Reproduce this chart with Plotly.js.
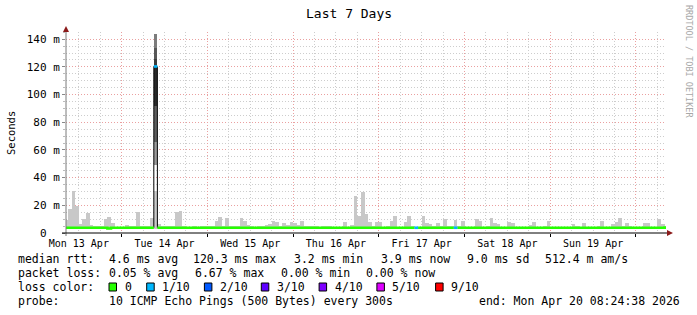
<!DOCTYPE html>
<html><head><meta charset="utf-8">
<script src="https://cdn.plot.ly/plotly-3.0.1.min.js"></script>
<style>html,body{margin:0;padding:0;background:#fff}</style>
</head><body><div id="chart" style="width:697px;height:315px"></div>
<script>
// ---------------- DATA ----------------
const axisStart = '2026-04-13 08:24:38';
const axisEnd   = '2026-04-20 08:24:38';
const firstHourUTC = Date.UTC(2026, 3, 13, 8, 0, 0);   // hourly consolidated rows start 08:00 Apr 13
const smokeMinMs = 3.2;
// max ping (ms) of each hourly row, 08:00 Apr 13 .. 08:00 Apr 20
const smokeMaxMs = [
 9.4,17,30.5,19.5,6.5,10,14.6,5.8,5,5,
 5,10,11.7,7.4,4.3,4.3,4.3,5.8,5,5,
 15.4,5,5,5,11,30,6.5,5,5,5,
 5,15.4,16,5,4.3,4.3,5,4.3,5,5,
 5,5,8.9,11.7,5,11,5,5,5,11,
 8.9,5.8,5,4.3,5,5,5.5,6.5,8.9,8,
 5,7,5.8,8,7,5.8,8.9,5,5,5,
 5,4.3,5,5,5,4.3,4.3,4.3,8,4.3,
 6,26.7,12.3,29.8,13.7,8,5,8,8,4.3,
 5,8.9,12.5,4.3,4.3,8,12.3,5,4.3,4.3,
 12.3,7,6.5,5,7.5,5,10,5,5,9.5,
 5,9,4.3,4.3,4.3,10,9,4.3,5,11,
 7,6.5,4.3,4.3,8,7.5,4.3,4.3,4.3,4.3,
 5.8,8,4.3,4.3,5,9,4.3,4.3,4.3,4.3,
 4.3,4.3,6.5,5,4.3,7.5,4.3,4.3,4.3,5,
 9,4.3,4.3,6.5,8,11,5,7.5,5,4.3,
 4.3,4.3,7.5,7.5,4.3,4.3,10,6.5,5
];
// median rtt (ms) of each hourly row
const medianMs = [
 3.8,3.8,3.8,3.8,3.8,3.8,3.8,3.8,3.8,3.8,
 3.8,3.8,3.2,3.8,3.8,3.8,3.8,3.8,3.8,3.8,
 3.8,3.8,3.8,3.8,3.8,120.3,3.8,3.8,3.8,3.8,
 3.8,3.8,3.8,3.8,3.8,3.8,3.8,3.8,3.8,3.8,
 3.8,3.8,3.8,3.8,3.8,3.8,3.8,3.8,3.8,3.8,
 3.8,3.8,3.8,3.8,3.8,3.8,3.8,3.8,3.8,3.8,
 3.8,3.8,3.8,3.8,3.8,3.8,3.8,3.8,3.8,3.8,
 3.8,3.8,3.8,3.8,3.8,3.8,3.8,3.8,3.8,3.8,
 3.8,3.8,3.8,3.8,3.8,3.8,3.8,3.8,3.8,3.8,
 3.8,3.8,3.8,3.8,3.8,3.8,3.8,3.8,3.8,3.8,
 3.8,3.8,3.8,3.8,3.8,3.8,3.8,3.8,3.8,3.8,
 3.8,3.8,3.8,3.8,3.8,3.8,3.8,3.8,3.8,3.8,
 3.8,3.8,3.8,3.8,3.8,3.8,3.8,3.8,3.8,3.8,
 3.8,3.8,3.8,3.8,3.8,3.8,3.8,3.8,3.8,3.8,
 3.8,3.8,3.8,3.8,3.8,3.8,3.8,3.8,3.8,3.8,
 3.8,3.8,3.3,3.3,3.3,3.8,3.8,3.8,3.8,3.8,
 3.8,3.8,3.8,3.8,3.8,3.8,3.8,3.8,3.9
];
// packet loss (tenths) of each hourly row
const lossTenths = [
 0,0,0,0,0,0,0,0,0,0, 0,0,0,0,0,0,0,0,0,0,
 0,0,0,0,0,1,0,0,0,0, 0,0,0,0,0,0,0,0,0,0,
 0,0,0,0,0,0,0,0,0,0, 0,0,0,0,0,0,0,0,0,0,
 0,0,0,0,0,0,0,0,0,0, 0,0,0,0,0,0,0,0,0,0,
 0,0,0,0,0,0,0,0,0,0, 0,0,0,0,0,0,0,0,1,0,
 0,0,0,0,0,0,0,0,0,1, 0,0,0,0,0,0,0,0,0,0,
 0,0,0,0,0,0,0,0,0,0, 0,0,0,0,0,0,0,0,0,0,
 0,0,0,0,0,0,0,0,0,0, 0,0,0,0,0,0,0,0,0,0,
 0,0,0,0,0,0,0,0,0
];
// dense smoke of the outage row (row index 25 = 09:00 Apr 14)
const spikeRow = 25;
const spikeLowMs  = [49, 66, 92, 120, 126, 134];
const spikeHighMs = [66, 92, 120, 126, 134, 144];
const spikeShade  = ['#9a9a9a','#5e5e5e','#2a2a2a','#3c3c3c','#575757','#7c7c7c'];

const lossLabels = ['0','1/10','2/10','3/10','4/10','5/10','9/10'];
const lossClass  = [0,1,2,3,4,5,9];
const lossColors = {0:'#26ff00',1:'#00b8ff',2:'#0059ff',3:'#5e00ff',4:'#7e00ff',5:'#dd00ff',9:'#ff0000'};

const yTickVals = [0,20,40,60,80,100,120,140];
const yTickText = ['0\u00a0\u00a0','20 m','40 m','60 m','80 m','100 m','120 m','140 m'];

const titleText = 'Last 7 Days';
const yTitle = 'Seconds';
const watermark = 'RRDTOOL / TOBI OETIKER';
const rttLabel = 'median rtt:';
const rttItems = ['4.6 ms avg','120.3 ms max','3.2 ms min','3.9 ms now','9.0 ms sd','512.4 m am/s'];
const lossLabel = 'packet loss:';
const lossItems = ['0.05 % avg','6.67 % max','0.00 % min','0.00 % now'];
const colorLabel = 'loss color:';
const probeLabel = 'probe:';
const probeText = '10 ICMP Echo Pings (500 Bytes) every 300s';
const endText = 'end: Mon Apr 20 08:24:38 2026';

// ---------------- BUILD ----------------
const HOUR = 3600000;
const hourStart = i => firstHourUTC + i*HOUR;
const MONO = 'DejaVu Sans Mono';

const traces = [];
// light smoke
traces.push({
  type:'bar', x: smokeMaxMs.map((v,i)=>hourStart(i)+HOUR/2), y: smokeMaxMs.map(v=>v-smokeMinMs),
  base: smokeMinMs, width: HOUR, marker:{color:'#c8c8c8', line:{width:0}},
  hoverinfo:'skip', showlegend:false
});
// dense smoke of outage
traces.push({
  type:'bar', x: spikeLowMs.map(()=>hourStart(spikeRow)+HOUR/2),
  y: spikeHighMs.map((h,k)=>h-spikeLowMs[k]), base: spikeLowMs, width: HOUR,
  marker:{color: spikeShade, line:{width:0}}, hoverinfo:'skip', showlegend:false
});
// black step connectors of median
{
  const xs=[], ys=[];
  for (let i=1;i<medianMs.length;i++){
    if (Math.abs(medianMs[i]-medianMs[i-1])>5){
      xs.push(hourStart(i),hourStart(i),null); ys.push(medianMs[i-1],medianMs[i],null);
    }
  }
  traces.push({type:'scatter',mode:'lines',x:xs,y:ys,line:{color:'#000',width:1},hoverinfo:'skip',showlegend:false});
}
// median line by loss colour
lossClass.forEach(c=>{
  const xs=[], ys=[];
  for (let i=0;i<medianMs.length;i++){
    if (lossTenths[i]!==c){ if (xs.length && xs[xs.length-1]!==null){xs.push(null);ys.push(null);} continue; }
    xs.push(hourStart(i),hourStart(i+1)); ys.push(medianMs[i],medianMs[i]);
  }
  if (xs.length) traces.push({type:'scatter',mode:'lines',x:xs,y:ys,line:{color:lossColors[c],width:2.6,shape:'linear'},hoverinfo:'skip',showlegend:false});
});
// grid helper axes
const gridMinor=[], gridMajor=[];
for (let d=13; d<=20; d++){
  gridMajor.push(Date.UTC(2026,3,d,0));
  [6,12,18].forEach(h=>gridMinor.push(Date.UTC(2026,3,d,h)));
}
traces.push({type:'scatter',mode:'markers',x:[axisStart,axisEnd],y:[0,0],xaxis:'x2',marker:{opacity:0},hoverinfo:'skip',showlegend:false});
traces.push({type:'scatter',mode:'markers',x:[axisStart,axisEnd],y:[0,0],xaxis:'x3',marker:{opacity:0},hoverinfo:'skip',showlegend:false});

// pixel helpers (plot area: x 66..666, y 32..233)
const PX = p => (p-66)/600;
const PY = p => (233-p)/201;

const ann = [];
const txt = (t,x,y,opt={}) => ann.push(Object.assign({text:t,x:PX(x),y:PY(y),xref:'paper',yref:'paper',showarrow:false,
   xanchor:'left',yanchor:'middle',font:{family:MONO,size:11.5,color:'#000'}},opt));
txt(titleText,348.5,14,{xanchor:'center',font:{family:MONO,size:13,color:'#000'}});
txt(yTitle,11,133,{xanchor:'center',textangle:-90,font:{family:MONO,size:10.5,color:'#000'}});
txt(watermark,689,61,{xanchor:'center',textangle:90,font:{family:MONO,size:8.5,color:'#a8a8a8'}});
const row=[259,273,287,301];
txt(rttLabel,16,row[0]);
[108,192.4,293.3,380,465.8,544.4].forEach((x,k)=>txt(rttItems[k],x-1,row[0]));
txt(lossLabel,16,row[1]);
[108,194.2,280,365.3].forEach((x,k)=>txt(lossItems[k],x-1,row[1]));
txt(colorLabel,16,row[2]);
const boxX=[109,146.7,204.4,261.3,319.1,376.9,435.6];
const shapes=[];
lossClass.forEach((c,k)=>{
  shapes.push({type:'rect',xref:'paper',yref:'paper',x0:PX(boxX[k]),x1:PX(boxX[k]+7.5),y0:PY(row[2]+4),y1:PY(row[2]-4),
    fillcolor:lossColors[c],line:{color:'#000',width:1}});
  txt(lossLabels[k],boxX[k]+14.5-1,row[2]);
});
txt(probeLabel,16,row[3]);
txt(probeText,107,row[3]);
txt(endText,477,row[3]);

// axes lines & arrows
shapes.push({type:'line',xref:'paper',yref:'paper',x0:0,x1:0,y0:PY(236),y1:PY(28),line:{color:'#7a7a7a',width:1}});
shapes.push({type:'line',xref:'paper',yref:'paper',x0:PX(62),x1:PX(668),y0:0,y1:0,line:{color:'#000',width:1}});
shapes.push({type:'path',xref:'paper',yref:'paper',
  path:`M ${PX(63)} ${PY(32)} L ${PX(69)} ${PY(32)} L ${PX(66)} ${PY(26)} Z`,fillcolor:'#8b1a1a',line:{width:0}});
shapes.push({type:'path',xref:'paper',yref:'paper',
  path:`M ${PX(667)} ${PY(230)} L ${PX(667)} ${PY(236)} L ${PX(673)} ${PY(233)} Z`,fillcolor:'#8b1a1a',line:{width:0}});

const GRAY='#cdcdcd', RED='#eaa0a0', DASH='1px,2px';
const layout = {
  width:697, height:315, margin:{l:66,r:31,t:32,b:82,pad:0},
  paper_bgcolor:'#fff', plot_bgcolor:'#fff', showlegend:false, barmode:'overlay', bargap:0,
  font:{family:MONO,color:'#000'},
  xaxis:{type:'date',range:[axisStart,axisEnd],tickmode:'linear',tick0:'2026-04-13 12:00',dtick:86400000,
    tickformat:'%a %d %b',showgrid:false,zeroline:false,showline:false,ticks:'',ticklen:0,ticklabelstandoff:3,
    tickfont:{family:MONO,size:10,color:'#000'},fixedrange:true},
  xaxis2:{type:'date',overlaying:'x',anchor:'y',range:[axisStart,axisEnd],tickmode:'array',tickvals:gridMinor,
    showticklabels:false,ticks:'',showgrid:true,gridcolor:GRAY,griddash:DASH,gridwidth:1,zeroline:false,showline:false},
  xaxis3:{type:'date',overlaying:'x',anchor:'y',range:[axisStart,axisEnd],tickmode:'array',tickvals:gridMajor,
    showticklabels:false,ticks:'outside',ticklen:3,tickcolor:'#000',showgrid:true,gridcolor:RED,griddash:DASH,gridwidth:1,zeroline:false,showline:false},
  yaxis:{range:[0,145.2],tickmode:'array',tickvals:yTickVals,ticktext:yTickText,
    showgrid:true,gridcolor:RED,griddash:DASH,gridwidth:1,zeroline:false,showline:false,
    ticks:'outside',ticklen:3,tickcolor:'#888',tickfont:{family:MONO,size:11,color:'#000'},
    minor:{tickmode:'linear',tick0:0,dtick:5,showgrid:true,gridcolor:GRAY,griddash:DASH,gridwidth:1,ticks:'outside',ticklen:2,tickcolor:'#bbb'},
    fixedrange:true},
  annotations:ann, shapes:shapes
};
Plotly.newPlot('chart', traces, layout, {staticPlot:true, displayModeBar:false});
</script></body></html>
